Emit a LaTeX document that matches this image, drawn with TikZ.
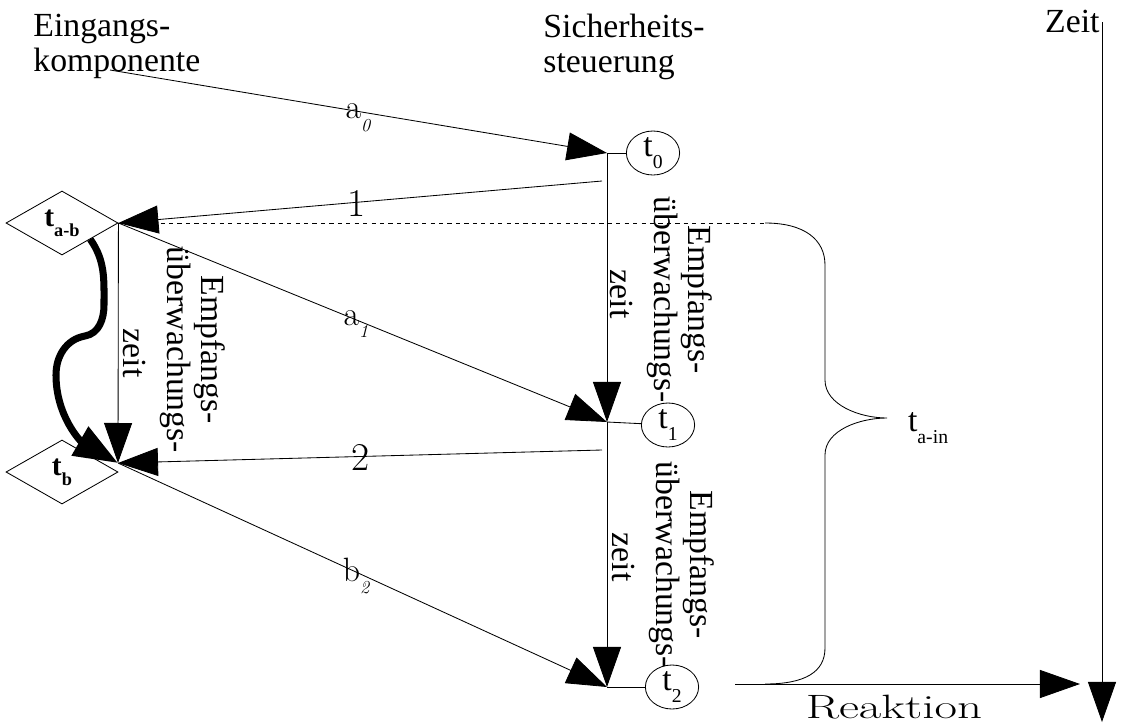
\documentclass[tikz,border=0pt]{standalone}
\usepackage{fontspec}
\setmainfont{Liberation Serif}
\newfontfamily\lmfont{Latin Modern Roman}
\usepackage{pdfrender}
\usetikzlibrary{arrows.meta,shapes.geometric}

\newcommand{\tsub}[1]{t\raisebox{-8pt}{\fontsize{14}{14}\selectfont #1}}
\newcommand{\bsub}[1]{\textbf{t}\raisebox{-7pt}{\fontsize{13}{13}\selectfont\bfseries #1}}
\newcommand{\hollow}[1]{\textpdfrender{TextRenderingMode=Stroke,LineWidth=0.35pt}{\lmfont #1}}
\newcommand{\msgletter}[2]{\hollow{#1\raisebox{-9pt}{\fontsize{13}{13}\selectfont\itshape #2}}}

\begin{document}
\begin{tikzpicture}[x=0.025cm, y=-0.025cm, line width=0.6pt,
    font=\fontsize{24}{24.5}\selectfont,
    bigtip/.style={-{Triangle[length=1cm,width=0.7cm]}},
    timept/.style={ellipse, draw, minimum width=1.33cm, minimum height=1.1cm, inner sep=0pt},
    station/.style={diamond, draw, minimum width=2.8cm, minimum height=1.6cm, inner sep=0pt,
        font=\fontsize{21}{21}\selectfont},
    vlabel/.style={rotate=-90, align=center},
    digitlabel/.style={font=\fontsize{28}{28}\selectfont}]
    \useasboundingbox (0,0) rectangle (1127,725);

    % Headings
    \node[anchor=north west, inner sep=0, align=left] (ein) at (33,14) {Eingangs-\\komponente};
    \node[anchor=north west, inner sep=0, align=left] (sps) at (543,14) {Sicherheits-\\steuerung};
    \node[anchor=north east, inner sep=0] (zeit) at (1100,10) {Zeit};

    % Time points of the controller
    \node[timept] (t0) at (653,153) {\tsub{0}};
    \node[timept] (t1) at (668,425) {\tsub{1}};
    \node[timept] (t2) at (672,687) {\tsub{2}};
    \coordinate (p0) at (607,153);
    \coordinate (p1) at (607,422);
    \coordinate (p2) at (607,687);
    \coordinate (s1) at (602,181);
    \coordinate (s2) at (602,450);

    % Input component
    \node[station] (tab) at (62,223) {\bsub{a-b}};
    \node[station] (tb) at (62,472) {\bsub{b}};
    \coordinate (qb) at (118,463);
    \coordinate (e0) at (110,70);

    % Messages
    \draw[bigtip] (e0) -- (p0);
    \draw (p0) -- (t0);
    \draw[bigtip] (s1) -- (tab.east);
    \draw[bigtip] (p0) -- (p1);
    \draw (p1) -- (t1);
    \draw[bigtip] (tab.east) -- (p1);
    \draw[bigtip] (tab.east) -- (qb);
    \draw[bigtip] (s2) -- (qb);
    \draw[bigtip] (qb) -- (p2);
    \draw[bigtip] (p1) -- (p2);
    \draw (p2) -- (t2);

    \node (la0) at (358,118) {\msgletter{a}{0}};
    \node[digitlabel] (l1) at (357,203) {\hollow{1}};
    \node (la1) at (356,324) {\msgletter{a}{1}};
    \node[digitlabel] (l2) at (361,457) {\hollow{2}};
    \node (lb2) at (356,576) {\msgletter{b}{2}};

    % Monitoring times
    \node[vlabel] (w0) at (193,350) {Empfangs-\\überwachungs-};
    \node[vlabel] (z0) at (135,353) {zeit};
    \node[vlabel] (w1) at (680,300) {Empfangs-\\überwachungs-};
    \node[vlabel] (z1) at (622,294) {zeit};
    \node[vlabel] (w2) at (682,565) {Empfangs-\\überwachungs-};
    \node[vlabel] (z2) at (624,557) {zeit};

    % Thick wait curve
    \draw[line width=5pt, -{Triangle[length=1.1cm,width=0.8cm]}] (tab.south east)
        to[out=-55,in=90] (104,305) to[out=-90,in=10] (85,336)
        to[out=190,in=90] (56,375) to[out=-90,in=150] (qb);

    % Brace
    \coordinate (b0) at (765,223);
    \coordinate (b1) at (765,684);
    \draw[dash pattern=on 3pt off 3pt] (tab.east) -- (b0);
    \draw (b0) .. controls (805,223) and (825,240) .. (825,265) -- (825,380)
        .. controls (825,405) and (860,418) .. (887,418)
        .. controls (860,418) and (825,430) .. (825,455) -- (825,648)
        .. controls (825,672) and (805,684) .. (b1);
    \node[anchor=west] (tin) at (903,428) {\tsub{a-in}};

    % Time axis and reaction
    \coordinate (za) at (1102,22);
    \coordinate (zb) at (1102,722);
    \draw[bigtip] (za) -- (zb);
    \coordinate (r0) at (735,684);
    \coordinate (r1) at (1080,684);
    \draw[bigtip] (r0) -- (r1);
    \node[inner sep=1pt] (reak) at (894,707) {\scalebox{1.45}[1]{\hollow{Reaktion}}};
\end{tikzpicture}
\end{document}
